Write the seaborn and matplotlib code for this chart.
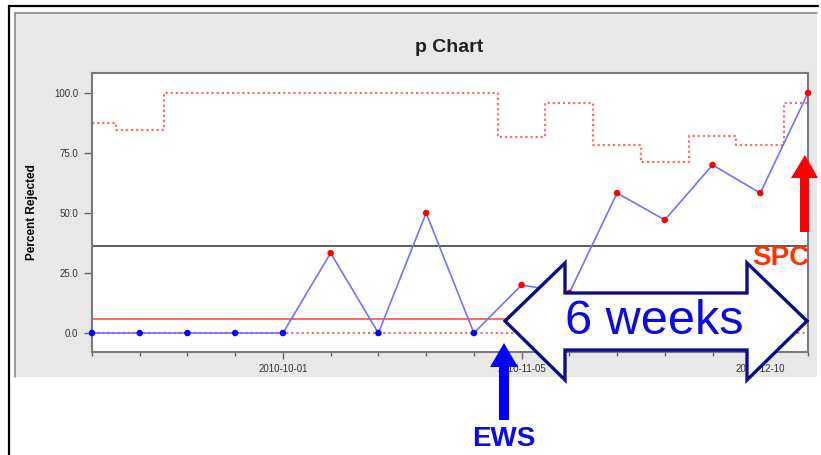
import pandas as pd
import numpy as np
import matplotlib.pyplot as plt
import seaborn as sns
from matplotlib.patches import Polygon, Rectangle
from matplotlib.lines import Line2D
from matplotlib.ticker import FormatStrFormatter

# weekly p chart data
weeks = pd.date_range('2010-09-03', periods=16, freq='7D')
pct_rejected = [0, 0, 0, 0, 0, 33.3, 0, 50.0, 0, 20.0, 16.7, 58.3, 47.1, 70.0, 58.3, 100.0]
ucl = [87.5, 84.6, 100, 100, 100, 100, 100, 100, 100, 81.7, 95.6, 78.3, 71.2, 82.0, 78.3, 95.6]
lcl = [0] * 16
center_line = 36.2
red_ref_line = 5.8
y_ticks = [0, 25, 50, 75, 100]
labelled_weeks = weeks[4::5]

sns.set_style('white')
plt.rcParams['font.family'] = ['Liberation Sans', 'DejaVu Sans']

W, H = 821, 455
fig = plt.figure(figsize=(W / 100, H / 100), dpi=100)


def fx(x):
    return x / W


def fy(y):
    return 1 - y / H


def pts(seq):
    return [(fx(x), fy(y)) for x, y in seq]


# outer frame and grey panel
fig.add_artist(Rectangle((fx(15), fy(377)), fx(817) - fx(15), fy(13) - fy(377),
                         transform=fig.transFigure, facecolor='#e8e8e8',
                         edgecolor='none', zorder=-2))
fig.add_artist(Line2D([fx(15), fx(817)], [fy(13), fy(13)], transform=fig.transFigure,
                      color='#808080', lw=1.1, zorder=-1))
fig.add_artist(Line2D([fx(15), fx(15)], [fy(13), fy(377)], transform=fig.transFigure,
                      color='#808080', lw=1.1, zorder=-1))
fig.add_artist(Line2D([fx(9), fx(818)], [fy(6), fy(6)], transform=fig.transFigure,
                      color='black', lw=1.6, zorder=-1))
fig.add_artist(Line2D([fx(9), fx(9)], [fy(6), fy(455)], transform=fig.transFigure,
                      color='black', lw=1.6, zorder=-1))

ax = fig.add_axes([fx(92), fy(352), (808 - 92) / W, (352 - 73) / H])
ax.set_facecolor('white')

df = pd.DataFrame({'week': weeks, 'pct': pct_rejected, 'ucl': ucl, 'lcl': lcl})
df['status'] = np.where(df['pct'] > df['lcl'], 'signal', 'base')

ax.axhline(center_line, color='#303030', lw=1.1, zorder=2)
ax.axhline(red_ref_line, color='#ff5c5c', lw=1.3, zorder=2)

sns.lineplot(data=df, x='week', y='ucl', drawstyle='steps-mid', color='#ff6b6b',
             lw=1.6, linestyle=(0, (1, 1.3)), errorbar=None, ax=ax, zorder=2)
sns.lineplot(data=df, x='week', y='lcl', color='#ff6b6b', lw=1.6,
             linestyle=(0, (1, 1.3)), errorbar=None, ax=ax, zorder=2)
sns.lineplot(data=df, x='week', y='pct', color='#7272ff', lw=1.2,
             errorbar=None, ax=ax, zorder=3)
sns.scatterplot(data=df, x='week', y='pct', hue='status',
                palette={'base': '#0000ff', 'signal': '#ff0000'}, s=22,
                edgecolor='none', legend=False, ax=ax, zorder=4, clip_on=False)

ax.set_xlim(weeks[0], weeks[-1])
ax.set_ylim(-7.9, 108.3)
ax.set_yticks(y_ticks)
ax.yaxis.set_major_formatter(FormatStrFormatter('%.1f'))
ax.set_xticks(labelled_weeks)
ax.set_xticklabels([d.strftime('%Y-%m-%d') for d in labelled_weeks])
ax.set_xticks(weeks, minor=True)
ax.set_xlabel('')
ax.set_ylabel('')

ax.tick_params(axis='y', which='major', direction='out', length=5.8, width=1,
               color='#666666', labelsize=7, labelcolor='#333333', pad=4, left=True)
ax.tick_params(axis='x', which='major', direction='out', length=5, width=1,
               color='#666666', labelsize=7, labelcolor='#333333', pad=4, bottom=True)
ax.tick_params(axis='x', which='minor', direction='out', length=3, width=1,
               color='#666666', bottom=True)
for side in ['left', 'bottom', 'top', 'right']:
    ax.spines[side].set_visible(True)
    ax.spines[side].set_color('#7a7a7a')
    ax.spines[side].set_linewidth(1.5)

fig.text(fx(449), fy(47), 'p Chart', ha='center', va='center', fontsize=14,
         fontweight='bold', color='#222222')
fig.text(fx(32), fy(212), 'Percent Rejected', ha='center', va='center', rotation=90,
         fontsize=8.5, fontweight='bold', color='black')

# annotations: 6 weeks double arrow, EWS and SPC arrows
double_arrow = [(505, 321), (565, 263), (565, 293), (747, 293), (747, 263), (807, 321),
                (747, 380), (747, 350), (565, 350), (565, 380)]
fig.add_artist(Polygon(pts(double_arrow), closed=True, transform=fig.transFigure,
                       facecolor='white', edgecolor='#0c0c8a', lw=2.4, zorder=5))
fig.text(fx(654), fy(322), '6 weeks', ha='center', va='center', fontsize=35,
         color='#0a0ae6', zorder=6)

ews_arrow = [(499, 420), (499, 367), (490, 367), (504, 343), (518, 367), (509, 367), (509, 420)]
fig.add_artist(Polygon(pts(ews_arrow), closed=True, transform=fig.transFigure,
                       facecolor='#0000ff', edgecolor='none', zorder=5))
fig.text(fx(504), fy(439), 'EWS', ha='center', va='center', fontsize=20,
         fontweight='bold', color='#0a0aee', zorder=6)

spc_arrow = [(800, 232), (800, 178), (791, 178), (805, 155), (818, 178), (809, 178), (809, 232)]
fig.add_artist(Polygon(pts(spc_arrow), closed=True, transform=fig.transFigure,
                       facecolor='#ff0000', edgecolor='none', zorder=5))
fig.text(fx(781), fy(258), 'SPC', ha='center', va='center', fontsize=20,
         fontweight='bold', color='#ff3300', zorder=6)

fig.savefig('out.png', dpi=100)
